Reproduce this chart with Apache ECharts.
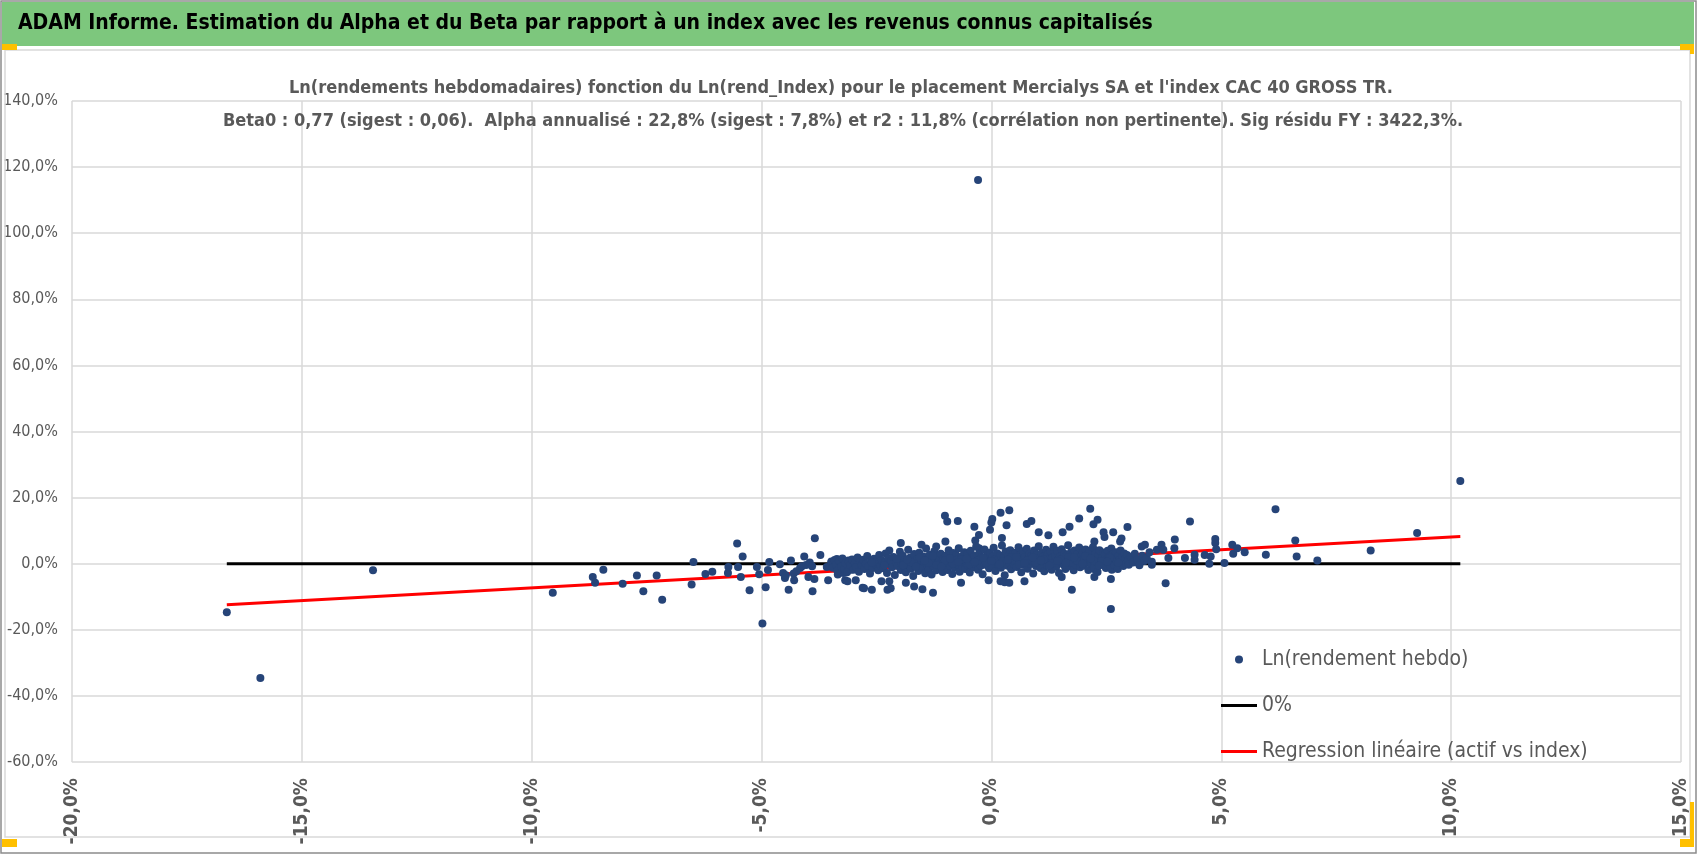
<!DOCTYPE html>
<html>
<head>
<meta charset="utf-8">
<title>ADAM Informe - Alpha Beta Mercialys</title>
<script src="https://cdn.jsdelivr.net/npm/echarts@6/dist/echarts.min.js"></script>
<style>
  html, body { margin: 0; padding: 0; background: #fff; }
  #chart { width: 1698px; height: 855px; }
</style>
</head>
<body>
<div id="chart"></div>
<script>
// police étroite proche de Calibri
var FONT = "'Liberation Sans Narrow', 'DejaVu Sans Condensed', 'Roboto', sans-serif";

var mainTitle = "ADAM Informe. Estimation du Alpha et du Beta par rapport à un index avec les revenus connus capitalisés";
var subTitle1 = "Ln(rendements hebdomadaires) fonction du Ln(rend_Index) pour le placement Mercialys SA et l'index CAC 40 GROSS TR.";
var subTitle2 = "Beta0 : 0,77 (sigest : 0,06).  Alpha annualisé : 22,8% (sigest : 7,8%) et r2 : 11,8% (corrélation non pertinente). Sig résidu FY : 3422,3%.";

var seriesNames = ['Ln(rendement hebdo)', '0%', 'Regression linéaire (actif vs index)'];

// axes (en %)
var xMin = -20, xMax = 15, xStep = 5;
var yMin = -60, yMax = 140, yStep = 20;

// points isolés [rend_Index %, rend_actif %]
var outlierPoints = [
  [-16.63,-14.7],[-15.9,-34.6],[-13.45,-2.0],[-9.54,-8.8],[-8.67,-4.0],[-8.62,-5.8],[-8.44,-1.8],[-8.02,-6.1],
  [-7.71,-3.6],[-7.57,-8.3],[-7.28,-3.6],[-7.16,-10.9],[-6.52,-6.3],[-6.48,0.5],[-6.22,-3.1],[-6.07,-2.4],
  [-5.73,-2.8],[-5.72,-1.0],[-5.53,6.1],[-5.51,-1.0],[-5.45,-4.0],[-5.41,2.2],[-5.26,-8.0],[-5.1,-1.0],
  [-5.05,-3.2],[-4.98,-18.1],[-4.91,-7.1],[-4.86,-1.9],[-4.83,0.5],[-4.6,-0.2],[-4.53,-2.8],[-4.49,-4.3],
  [-4.47,-3.5],[-4.41,-7.9],[-4.36,1.0],[-4.3,-3.0],[-4.29,-5.0],[-4.24,-2.3],[-4.16,-1.3],[-4.12,-0.8],
  [-4.07,2.2],[-4.03,-0.4],[-3.98,-4.0],[-3.95,0.4],[-3.9,-0.8],[-3.89,-8.3],[-3.85,-4.6],[-3.84,7.7],
  [-3.72,2.6],[-3.58,-1.0],[-3.55,-5.0],[-3.48,0.7],[-3.42,-1.0],[-3.36,1.4],[-3.34,-3.3],[-3.32,-1.8],
  [-3.3,1.0],[-3.22,-2.8],[-3.18,-5.0],[-3.13,-5.3],[-3.11,1.0],[-3.06,-1.8],[-2.95,-5.0],[-2.8,-7.3],
  [-2.77,-7.4],[-2.6,-7.9],[-2.39,-5.3],[-2.26,-7.9],[-2.22,-5.3],[-2.19,-7.4],[-1.97,6.3],[-2.22,4.0],
  [-1.86,-5.8],[-1.68,-6.9],[-1.52,5.7],[-1.5,-7.7],[-1.27,-8.8],[-1.2,5.2],[-1.01,14.5],[-0.96,12.8],
  [-1.0,6.7],[-0.73,12.9],[-0.66,-5.8],[-0.37,11.2],[-0.35,7.0],[-0.29,116.1],[-0.27,8.7],[-0.27,4.7],
  [-0.06,-5.0],[-0.03,10.3],[0.0,12.5],[0.02,13.5],[0.2,15.4],[0.2,-5.3],[0.23,7.8],[0.29,-5.6],
  [0.33,11.6],[0.39,16.2],[0.39,-5.8],[0.72,-5.3],[0.77,12.0],[0.87,12.9],[1.03,9.5],[1.24,8.6],
  [1.53,-4.0],[1.55,9.5],[1.7,11.2],[1.75,-7.9],[1.91,13.7],[2.15,16.6],[2.22,11.9],[2.24,6.7],
  [2.24,-4.0],[2.26,-1.8],[2.31,13.3],[2.44,9.5],[2.46,8.1],[2.6,-4.6],[2.6,-13.7],[2.62,-1.8],
  [2.65,9.5],[2.8,6.7],[2.83,7.6],[2.96,11.1],[3.2,0.2],[3.27,5.2],[3.34,5.7],[3.49,-0.3],
  [3.6,4.2],[3.7,5.7],[3.74,4.2],[3.79,-5.9],[3.85,1.7],[3.98,4.7],[3.99,7.3],[4.21,1.7],
  [4.32,12.8],[4.42,2.7],[4.42,1.2],[4.64,2.6],[4.74,0.0],[4.77,2.2],[4.87,7.5],[4.87,6.3],
  [4.89,4.4],[5.07,0.2],[5.24,5.7],[5.26,3.0],[5.35,4.7],[5.51,3.5],[5.97,2.7],[6.18,16.5],
  [6.61,7.0],[6.64,2.2],[7.09,1.0],[8.25,4.0],[9.26,9.3],[10.2,25.0]
];

// nuage dense autour de zéro
var clusterPoints = [
  [-3.48,0.4],[-3.45,-1.2],[-3.41,1.1],[-3.38,-0.3],[-3.35,-2.1],[-3.31,0.8],[-3.27,-0.9],[-3.24,1.6],
  [-3.2,-1.5],[-3.17,0.1],[-3.14,-2.6],[-3.1,0.6],[-3.07,-0.5],[-3.03,1.3],[-3.0,-1.8],
  [-2.97,0.2],[-2.94,-1.0],[-2.91,1.9],[-2.88,-2.4],[-2.85,0.7],[-2.82,-0.4],[-2.79,1.2],[-2.76,-1.6],
  [-2.73,0.0],[-2.7,2.3],[-2.67,-0.8],[-2.64,-3.0],[-2.61,0.9],[-2.58,-1.3],[-2.55,1.5],[-2.52,-0.2],
  [-2.49,0.5],[-2.46,-2.0],[-2.44,2.6],[-2.41,-0.6],[-2.38,1.0],[-2.35,-1.4],[-2.32,0.3],[-2.3,3.1],
  [-2.27,-2.8],[-2.24,1.7],[-2.21,-0.1],[-2.18,0.8],[-2.16,-1.1],[-2.13,2.0],[-2.1,-3.4],[-2.07,0.4],
  [-2.04,-0.7],[-2.02,1.4],
  [-1.99,3.6],[-1.97,-1.9],[-1.95,0.1],[-1.93,2.4],[-1.9,-0.9],[-1.88,1.1],[-1.86,-2.6],[-1.84,0.6],
  [-1.81,4.2],[-1.79,-0.3],[-1.77,1.8],[-1.75,-1.5],[-1.72,0.9],[-1.7,-3.7],[-1.68,2.9],[-1.66,-0.6],
  [-1.63,0.3],[-1.61,1.5],[-1.59,-2.2],[-1.57,3.3],[-1.54,-0.1],[-1.52,1.0],
  [-1.5,-1.2],[-1.48,2.2],[-1.46,0.5],[-1.44,-2.9],[-1.42,4.6],[-1.4,-0.4],[-1.38,1.3],[-1.36,-1.7],
  [-1.34,2.7],[-1.32,0.0],[-1.3,-3.3],[-1.28,1.7],[-1.26,-0.8],[-1.24,3.8],[-1.22,0.7],[-1.2,-2.0],
  [-1.18,2.0],[-1.16,-0.2],[-1.14,1.1],[-1.12,-1.4],[-1.1,3.0],[-1.08,0.4],[-1.06,-2.5],[-1.04,1.6],
  [-1.02,-0.6],
  [-0.99,2.4],[-0.97,0.1],[-0.95,-1.9],[-0.93,4.1],[-0.91,0.9],[-0.89,-0.7],[-0.87,1.9],[-0.85,-3.1],
  [-0.83,3.2],[-0.81,0.3],[-0.79,-1.2],[-0.77,2.6],[-0.75,1.2],[-0.73,-0.3],[-0.71,4.7],[-0.69,-2.4],
  [-0.67,0.6],[-0.65,2.1],[-0.63,-0.9],[-0.61,1.4],[-0.59,3.5],[-0.57,-1.6],[-0.55,0.2],[-0.53,2.8],
  [-0.51,-0.5],
  [-0.49,1.0],[-0.47,-2.7],[-0.45,3.9],[-0.43,0.4],[-0.41,1.7],[-0.39,-1.1],[-0.37,2.3],[-0.35,-0.1],
  [-0.33,5.2],[-0.31,0.8],[-0.29,-1.8],[-0.27,3.0],[-0.25,1.3],[-0.23,-0.6],[-0.21,2.0],[-0.19,-3.2],
  [-0.17,0.5],[-0.15,4.3],[-0.13,1.6],[-0.11,-0.4],[-0.09,2.6],[-0.07,0.0],[-0.05,-1.4],[-0.03,3.4],
  [-0.01,1.1],
  [0.01,-0.8],[0.03,2.1],[0.05,4.8],[0.07,0.6],[0.09,-2.2],[0.11,1.5],[0.13,3.1],[0.15,-0.3],
  [0.17,0.9],[0.19,2.5],[0.21,-1.2],[0.23,5.5],[0.25,0.2],[0.27,1.8],[0.29,-3.5],[0.31,3.7],
  [0.33,1.0],[0.35,-0.6],[0.37,2.3],[0.39,0.4],[0.41,4.1],[0.43,-1.7],[0.45,1.4],[0.47,2.9],
  [0.49,-0.2],
  [0.51,0.8],[0.53,3.3],[0.55,-1.0],[0.57,1.9],[0.59,5.0],[0.61,0.1],[0.63,2.6],[0.65,-2.6],
  [0.67,1.2],[0.69,3.8],[0.71,-0.4],[0.73,2.0],[0.75,0.6],[0.77,4.5],[0.79,-1.5],[0.81,1.6],
  [0.83,3.0],[0.85,-0.1],[0.87,2.3],[0.89,0.9],[0.91,-3.0],[0.93,4.0],[0.95,1.3],[0.97,-0.7],
  [0.99,2.7],
  [1.01,0.3],[1.03,5.3],[1.05,1.7],[1.07,-1.3],[1.09,3.2],[1.11,0.7],[1.13,2.2],[1.15,-2.3],
  [1.17,1.0],[1.19,4.2],[1.21,-0.5],[1.23,2.8],[1.25,1.4],[1.27,0.0],[1.29,3.6],[1.31,-1.8],
  [1.33,1.9],[1.35,5.1],[1.37,0.5],[1.39,2.5],[1.41,-0.9],[1.43,3.9],[1.45,1.1],[1.47,-2.8],
  [1.49,2.1],
  [1.51,0.6],[1.53,4.4],[1.55,1.6],[1.57,-0.3],[1.59,3.0],[1.61,-1.6],[1.63,2.4],[1.65,0.9],
  [1.67,5.6],[1.69,-0.8],[1.71,1.8],[1.73,3.5],[1.75,0.2],[1.77,2.7],[1.79,-2.0],[1.81,4.0],
  [1.83,1.2],[1.85,-0.4],[1.87,2.9],[1.89,0.7],[1.91,4.9],[1.93,-1.1],[1.95,2.2],[1.97,1.0],
  [1.99,3.3],
  [2.01,-0.6],[2.03,1.5],[2.05,4.3],[2.07,0.4],[2.09,2.6],[2.11,-1.9],[2.13,3.7],[2.15,1.1],
  [2.17,0.0],[2.19,2.0],[2.21,5.0],[2.23,-1.0],[2.25,1.7],[2.27,3.1],[2.29,0.5],[2.31,-2.5],
  [2.33,2.4],[2.35,4.1],[2.37,0.9],[2.39,-0.2],[2.41,1.9],[2.43,3.4],[2.45,0.3],[2.47,2.8],
  [2.49,-1.3],
  [2.51,1.3],[2.53,3.9],[2.55,0.1],[2.57,2.2],[2.59,-0.9],[2.61,4.6],[2.63,1.0],[2.65,2.9],
  [2.67,-0.4],[2.69,1.6],[2.71,3.5],[2.73,0.6],[2.75,-1.6],[2.77,2.5],[2.79,1.2],[2.81,4.0],
  [2.83,0.2],[2.85,2.0],[2.87,-0.7],[2.89,3.1],[2.91,1.4],[2.93,0.0],[2.95,2.6],[2.97,1.0],
  [2.99,-0.3],
  [3.03,2.1],[3.08,0.4],[3.12,3.0],[3.17,1.2],[3.22,-0.5],[3.28,2.4],[3.33,0.8],[3.38,1.7],
  [3.44,3.5],[3.49,0.6],
  [-1.92,-0.5],[-1.74,0.4],[-1.56,1.9],[-1.37,0.2],[-1.19,-0.4],[-1.01,1.0],[-0.84,0.0],[-0.66,1.3],
  [-0.48,-0.2],[-0.3,0.9],[-0.12,0.2],[0.06,1.2],[0.24,0.7],[0.42,1.9],[0.6,-0.3],[0.78,1.0],
  [0.96,0.4],[1.14,1.3],[1.32,0.1],[1.5,1.2],[1.68,2.0],[1.86,0.9],[2.04,2.3],[2.22,1.0],
  [2.4,0.8],[2.58,1.8],[2.76,0.3],[-2.6,0.3],[-2.33,-0.5],[-2.06,1.5],[-1.83,1.3],[-1.64,-0.9],
  [-1.45,1.0],[-1.27,2.4],[-1.09,-0.9],[-0.9,1.6],[-0.72,0.5],[-0.54,1.5],[-0.36,0.5],[-0.18,1.8],
  [0.0,0.8],[0.18,-0.2],[0.36,1.2],[0.54,2.0],[0.72,0.2],[0.9,1.9],[1.08,1.0],[1.26,-0.6],
  [1.44,0.8],[1.62,0.3],[1.8,1.9],[1.98,0.0],[2.16,1.6],[2.34,-0.6],[2.52,0.6]
];

var zeroLine = [[-16.63, 0], [10.2, 0]];
var regressionLine = [[-16.63, -12.4], [10.2, 8.25]];

function pct(v) {
  return v.toFixed(1).replace('.', ',') + '%';
}

// icône de légende : trait fin (garde ses proportions)
var LINE_ICON = 'path://M0,0L36,0L36,3L0,3Z';

var myChart = echarts.init(document.getElementById('chart'));

var option = {
  backgroundColor: '#fff',
  animation: false,
  textStyle: { fontFamily: FONT },
  graphic: [
    // cadre extérieur
    { type: 'rect', shape: { x: 1, y: 1, width: 1695, height: 852 },
      style: { fill: 'none', stroke: '#8c8c8c', lineWidth: 1.5 }, z: 0 },
    // bandeau vert du titre
    { type: 'rect', shape: { x: 2, y: 2, width: 1692, height: 44 },
      style: { fill: '#7dc77d' }, z: 1 },
    { type: 'text', z: 2,
      style: { x: 18, y: 24, text: mainTitle, verticalAlign: 'middle',
               fill: '#000', font: 'bold 21px ' + FONT } },
    // bordure de la zone graphique
    { type: 'rect', shape: { x: 5, y: 50, width: 1685, height: 787 },
      style: { fill: 'none', stroke: '#d9d9d9', lineWidth: 1.5 }, z: 1 },
    // poignées orange
    { type: 'rect', shape: { x: 2, y: 44, width: 15, height: 6 }, style: { fill: '#ffc000' }, z: 2 },
    { type: 'rect', shape: { x: 1680, y: 44, width: 14, height: 6 }, style: { fill: '#ffc000' }, z: 2 },
    { type: 'rect', shape: { x: 1690, y: 44, width: 4, height: 10 }, style: { fill: '#ffc000' }, z: 2 },
    { type: 'rect', shape: { x: 2, y: 839, width: 15, height: 8 }, style: { fill: '#ffc000' }, z: 2 },
    { type: 'rect', shape: { x: 1690, y: 802, width: 4, height: 45 }, style: { fill: '#ffc000' }, z: 2 },
    { type: 'rect', shape: { x: 1680, y: 839, width: 14, height: 8 }, style: { fill: '#ffc000' }, z: 2 },
    // sous-titres
    { type: 'text', z: 2,
      style: { x: 841, y: 88, text: subTitle1, align: 'center', verticalAlign: 'middle',
               fill: '#595959', font: 'bold 18px ' + FONT } },
    { type: 'text', z: 2,
      style: { x: 843, y: 121, text: subTitle2, align: 'center', verticalAlign: 'middle',
               fill: '#595959', font: 'bold 18px ' + FONT } }
  ],
  grid: { left: 67, right: 17, top: 101, bottom: 93, containLabel: false },
  legend: {
    orient: 'vertical',
    left: 1216,
    top: 644,
    itemWidth: 36,
    itemHeight: 8,
    itemGap: 25,
    symbolKeepAspect: true,
    textStyle: { color: '#595959', fontSize: 21, lineHeight: 21, fontFamily: FONT },
    data: [
      { name: seriesNames[0], icon: 'circle' },
      { name: seriesNames[1], icon: LINE_ICON },
      { name: seriesNames[2], icon: LINE_ICON }
    ]
  },
  xAxis: {
    type: 'value',
    min: xMin, max: xMax, interval: xStep,
    axisLine: { show: false },
    axisTick: { show: false },
    splitLine: { lineStyle: { color: '#d9d9d9', width: 1.5 } },
    axisLabel: {
      rotate: 90, margin: 16,
      color: '#595959', fontSize: 19, fontWeight: 'bold', fontFamily: FONT,
      formatter: pct
    }
  },
  yAxis: {
    type: 'value',
    min: yMin, max: yMax, interval: yStep,
    axisLine: { show: false },
    axisTick: { show: false },
    splitLine: { lineStyle: { color: '#d9d9d9', width: 1.5 } },
    axisLabel: {
      margin: 14,
      color: '#595959', fontSize: 16, fontFamily: FONT,
      formatter: pct
    }
  },
  series: [
    {
      name: seriesNames[0],
      type: 'scatter',
      z: 3,
      symbol: 'circle',
      symbolSize: 8,
      itemStyle: { color: '#264478', opacity: 1 },
      data: outlierPoints.concat(clusterPoints)
    },
    {
      name: seriesNames[1],
      type: 'line',
      z: 2,
      symbol: 'none',
      lineStyle: { color: '#000', width: 3 },
      itemStyle: { color: '#000' },
      data: zeroLine
    },
    {
      name: seriesNames[2],
      type: 'line',
      z: 2,
      symbol: 'none',
      lineStyle: { color: '#ff0000', width: 3 },
      itemStyle: { color: '#ff0000' },
      data: regressionLine
    }
  ]
};

myChart.setOption(option);
</script>
</body>
</html>
